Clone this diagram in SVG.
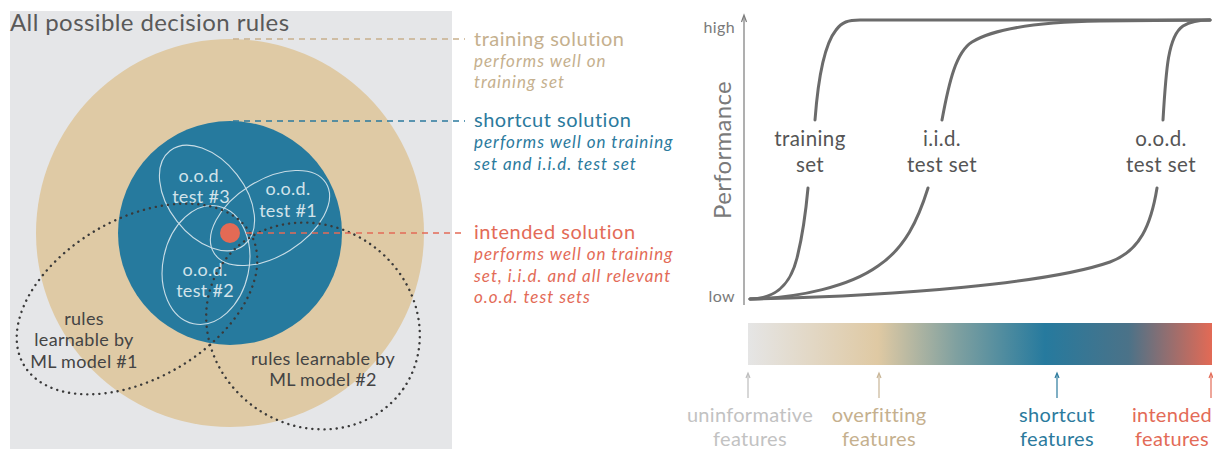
<svg xmlns="http://www.w3.org/2000/svg" width="1213" height="450" viewBox="0 0 1213 450">
<defs>
<style>
text{font-family:Lato,"Liberation Sans",sans-serif;}
.ood{fill:#d2e3ea;font-size:18px;letter-spacing:0.3px;text-anchor:middle;}
.oode{fill:none;stroke:#c9dde6;stroke-width:1.1;}
.dot{fill:none;stroke:#3a3a3a;stroke-width:2.4;stroke-dasharray:0.1 6;stroke-linecap:round;}
.rl{fill:#444;font-size:18px;letter-spacing:0.3px;text-anchor:middle;}
.dash{stroke-width:1.6;stroke-dasharray:6 5;fill:none;}
.h{font-size:20px;letter-spacing:0.5px;}
.s{font-size:17px;font-style:italic;letter-spacing:1px;}
.curve{fill:none;stroke:#6b6b6b;stroke-width:3;stroke-linecap:round;}
.cl{fill:#555;font-size:20.5px;letter-spacing:0.4px;text-anchor:middle;}
.ax{fill:#7a7a7a;}
.fl{font-size:20px;letter-spacing:0.3px;text-anchor:middle;}
.arr{stroke-width:1.2;fill:none;}
</style>
<linearGradient id="bar" x1="0" x2="1" y1="0" y2="0">
<stop offset="0" stop-color="#e5e5e5"/>
<stop offset="0.28" stop-color="#dfc9a3"/>
<stop offset="0.45" stop-color="#7fa0a0"/>
<stop offset="0.64" stop-color="#267a9e"/>
<stop offset="0.82" stop-color="#4b7288"/>
<stop offset="1" stop-color="#e36a55"/>
</linearGradient>
</defs>

<g id="panel-left">
<rect x="10" y="11" width="442" height="438" fill="#e5e6e8"/>
<text x="10" y="31" font-size="24" letter-spacing="0.4" fill="#595959">All possible decision rules</text>
</g>

<g id="training-solution">
<circle cx="230" cy="233" r="194" fill="#dfcaa5"/>
</g>
<g id="shortcut-solution">
<circle cx="230" cy="233" r="112" fill="#267a9e"/>
</g>

<g id="ood-test-3">
<ellipse cx="207" cy="198" rx="60" ry="38" transform="rotate(52 207 198)" class="oode"/>
<text class="ood" x="201" y="182">o.o.d.</text>
<text class="ood" x="201" y="203">test #3</text>
</g>
<g id="ood-test-1">
<ellipse cx="270" cy="218" rx="66" ry="38" transform="rotate(-32 270 218)" class="oode"/>
<text class="ood" x="288" y="195">o.o.d.</text>
<text class="ood" x="288" y="217">test #1</text>
</g>
<g id="ood-test-2">
<ellipse cx="206" cy="265" rx="43" ry="60" transform="rotate(12 206 265)" class="oode"/>
<text class="ood" x="205" y="276">o.o.d.</text>
<text class="ood" x="205" y="297">test #2</text>
</g>

<g id="intended-solution">
<circle cx="230" cy="233" r="10" fill="#e36a55"/>
</g>

<g id="ml-model-1">
<ellipse cx="137" cy="299" rx="131" ry="80" transform="rotate(-30 137 299)" class="dot"/>
<text class="rl" x="84" y="325">rules</text>
<text class="rl" x="84" y="346">learnable by</text>
<text class="rl" x="84" y="368">ML model #1</text>
</g>
<g id="ml-model-2">
<ellipse cx="313" cy="326" rx="110" ry="100" transform="rotate(35 313 326)" class="dot"/>
<text class="rl" x="323" y="365">rules learnable by</text>
<text class="rl" x="323" y="386">ML model #2</text>
</g>

<g id="connectors">
<line x1="233" y1="39" x2="465" y2="39" class="dash" stroke="#c8b08c"/>
<line x1="233" y1="121" x2="465" y2="121" class="dash" stroke="#2b7a9d"/>
<line x1="246" y1="233" x2="465" y2="233" class="dash" stroke="#e36b57"/>
</g>

<g id="label-training" fill="#c5b08e">
<text class="h" x="474" y="46">training solution</text>
<text class="s" x="474" y="67">performs well on</text>
<text class="s" x="474" y="88">training set</text>
</g>
<g id="label-shortcut" fill="#2b7a9d">
<text class="h" x="474" y="127">shortcut solution</text>
<text class="s" x="474" y="148">performs well on training</text>
<text class="s" x="474" y="170">set and i.i.d. test set</text>
</g>
<g id="label-intended" fill="#e36b57">
<text class="h" x="474" y="239">intended solution</text>
<text class="s" x="474" y="260">performs well on training</text>
<text class="s" x="474" y="282">set, i.i.d. and all relevant</text>
<text class="s" x="474" y="303">o.o.d. test sets</text>
</g>

<g id="chart-axis">
<line x1="744" y1="305" x2="744" y2="16" stroke="#7a7a7a" stroke-width="1.2"/>
<path d="M741.5,22 L744,15 L746.5,22" stroke="#7a7a7a" stroke-width="1.2" fill="none"/>
<text class="ax" x="735" y="33" font-size="16" letter-spacing="0.4" text-anchor="end">high</text>
<text class="ax" x="735" y="302" font-size="16" letter-spacing="0.4" text-anchor="end">low</text>
<text class="ax" font-size="24" letter-spacing="0.3" text-anchor="middle" transform="translate(731 150) rotate(-90)">Performance</text>
</g>

<g id="curve-training">
<path class="curve" d="M750,299 C775,299 790,286 797,258 C803,234 806,210 808,188"/>
<path class="curve" d="M815,120 C818,80 824,45 836,30 C842,22 848,20 860,20 L1210,20"/>
<text class="cl" x="810" y="146">training</text>
<text class="cl" x="810" y="172">set</text>
</g>
<g id="curve-iid">
<path class="curve" d="M750,299 C800,298 850,286 878,266 C905,248 918,220 928,188"/>
<path class="curve" d="M942,120 C949,82 956,52 972,42 C995,28 1040,22 1100,21 L1210,20"/>
<text class="cl" x="942" y="146">i.i.d.</text>
<text class="cl" x="942" y="172">test set</text>
</g>
<g id="curve-ood">
<path class="curve" d="M750,299 C900,296 1050,283 1110,262 C1140,251 1151,225 1157,188"/>
<path class="curve" d="M1163,120 C1166,70 1168,36 1183,26 C1191,21 1200,20 1210,20"/>
<text class="cl" x="1161" y="146">o.o.d.</text>
<text class="cl" x="1161" y="172">test set</text>
</g>

<g id="feature-bar">
<rect x="748" y="323" width="464" height="42" fill="url(#bar)"/>
</g>

<g id="feature-uninformative">
<line x1="748" y1="398" x2="748" y2="374" class="arr" stroke="#bdbdbd"/>
<path d="M746,378 L748,373 L750,378" class="arr" stroke="#bdbdbd"/>
<text class="fl" x="750" y="422" fill="#c2c2c2">uninformative</text>
<text class="fl" x="750" y="446" fill="#c2c2c2">features</text>
</g>
<g id="feature-overfitting">
<line x1="879" y1="398" x2="879" y2="374" class="arr" stroke="#c8b596"/>
<path d="M877,378 L879,373 L881,378" class="arr" stroke="#c8b596"/>
<text class="fl" x="879" y="422" fill="#c5b08e">overfitting</text>
<text class="fl" x="879" y="446" fill="#c5b08e">features</text>
</g>
<g id="feature-shortcut">
<line x1="1057" y1="398" x2="1057" y2="374" class="arr" stroke="#2b7a9d"/>
<path d="M1055,378 L1057,373 L1059,378" class="arr" stroke="#2b7a9d"/>
<text class="fl" x="1057" y="422" fill="#2b7a9d">shortcut</text>
<text class="fl" x="1057" y="446" fill="#2b7a9d">features</text>
</g>
<g id="feature-intended">
<line x1="1211" y1="398" x2="1211" y2="374" class="arr" stroke="#e36b57"/>
<path d="M1209,378 L1211,373 L1213,378" class="arr" stroke="#e36b57"/>
<text class="fl" x="1172" y="422" fill="#e36b57">intended</text>
<text class="fl" x="1172" y="446" fill="#e36b57">features</text>
</g>
</svg>
